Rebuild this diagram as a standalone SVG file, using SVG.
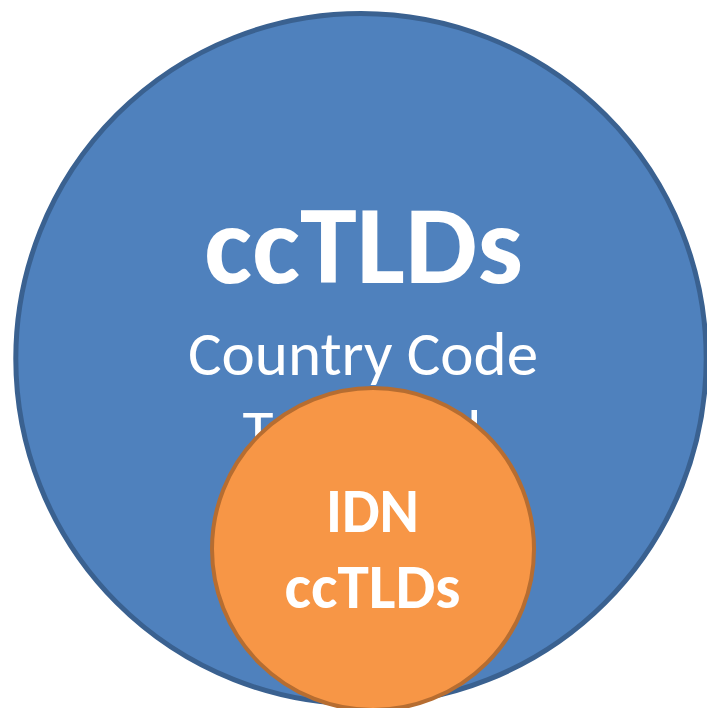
<svg xmlns="http://www.w3.org/2000/svg" width="707" height="708" viewBox="0 0 707 708">
<style>
.t{fill:#FFFFFF;font-family:Carlito,Calibri,"Open Sans","Noto Sans",sans-serif;text-anchor:middle}
.b{font-weight:bold}
</style>
<rect width="707" height="708" fill="#FFFFFF"/>
<g id="cctlds">
<circle cx="361" cy="358.7" r="345.2" fill="#4F81BD" stroke="#3A6190" stroke-width="5"/>
<text class="t b" x="363.5" y="283" font-size="112" textLength="319" lengthAdjust="spacingAndGlyphs">ccTLDs</text>
<text class="t" x="363" y="375" font-size="62" textLength="350" lengthAdjust="spacingAndGlyphs">Country Code</text>
<text class="t" x="362" y="453" font-size="62" textLength="239" lengthAdjust="spacingAndGlyphs">Top Level</text>
</g>
<g id="idn">
<circle cx="373" cy="549" r="161" fill="#F79646" stroke="#B66D31" stroke-width="4"/>
<text class="t b" x="372.5" y="532" font-size="62" textLength="93" lengthAdjust="spacingAndGlyphs">IDN</text>
<text class="t b" x="372.5" y="608" font-size="62" textLength="176" lengthAdjust="spacingAndGlyphs">ccTLDs</text>
</g>
<g id="connectors"/>
</svg>
